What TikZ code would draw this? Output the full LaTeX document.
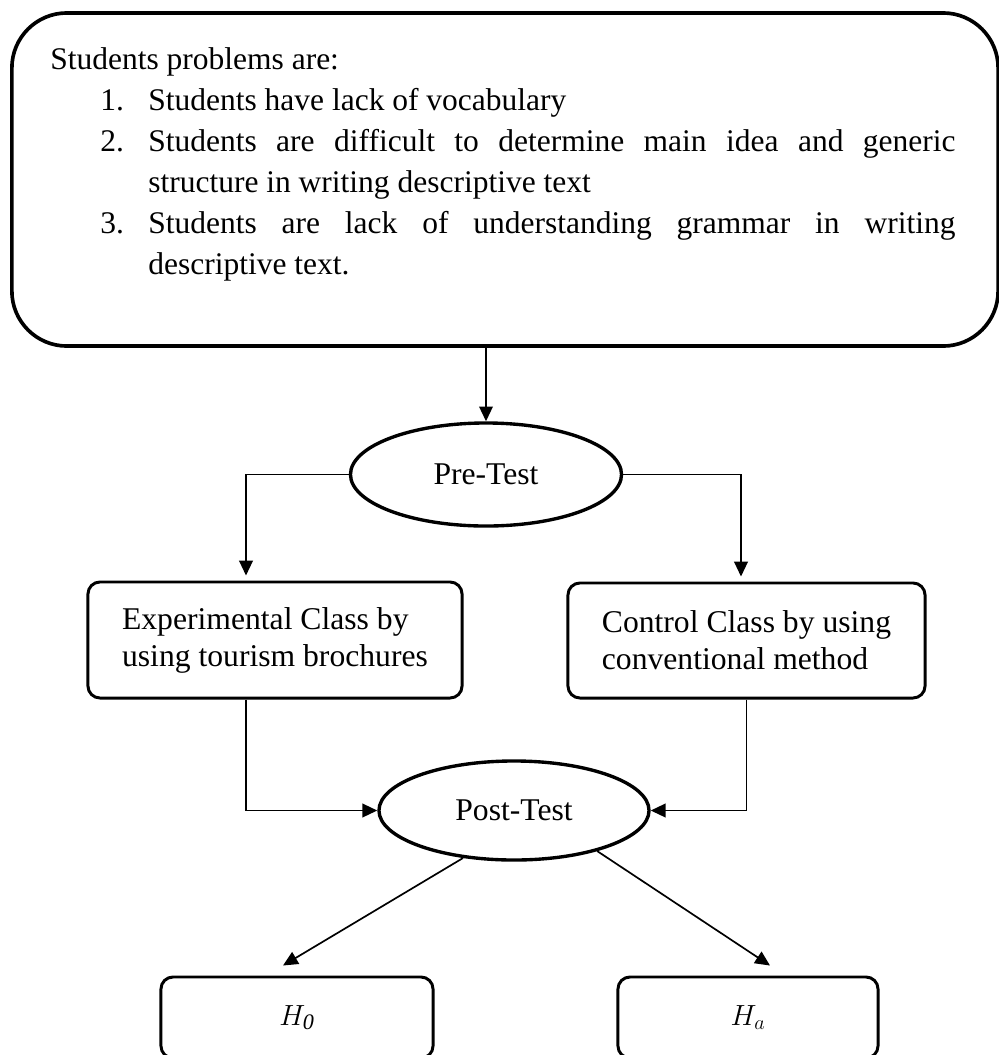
\documentclass[tikz,border=0pt]{standalone}
\usepackage{fontspec}
\setmainfont{Liberation Serif}
\usetikzlibrary{shapes.geometric,arrows.meta,calc}

\newcommand{\probfont}{\fontsize{22.4pt}{29.2pt}\selectfont}
\newcommand{\boxfont}{\fontsize{22.5pt}{26.3pt}\selectfont}
\newcommand{\probitem}[1]{\par\leftskip=2.45cm\noindent\llap{\makebox[1.2cm][l]{#1}}}

\begin{document}
\begin{tikzpicture}[x=0.025cm, y=-0.025cm,
    bigbox/.style={draw, line width=2.6pt, rounded corners=1.375cm, minimum width=24.65cm, minimum height=8.325cm},
    probtext/.style={inner sep=0, text width=22.625cm, align=justify, font=\probfont},
    classbox/.style={draw, line width=2.1pt, rounded corners=0.3cm, align=left, font=\boxfont, inner sep=0},
    hypbox/.style={draw, line width=2.1pt, rounded corners=0.3cm, font=\boxfont, minimum height=2.025cm},
    testnode/.style={draw, ellipse, line width=2.4pt, font=\boxfont, inner sep=0},
    conn/.style={line width=1.2pt, -{Triangle[length=0.37cm,width=0.34cm]}}]
  \useasboundingbox (0,0) rectangle (999,1055);
  \clip (0,0) rectangle (999,1055);

  % the problem box
  \node[bigbox] (prob) at (505,179.5) {};
  \node[probtext, anchor=north west] (probtxt) at (50,47) {\hyphenpenalty=10000\noindent Students problems are:
    \probitem{1.}Students have lack of vocabulary
    \probitem{2.}Students are difficult to determine main idea and generic\linebreak structure in writing descriptive text
    \probitem{3.}Students are lack of understanding grammar in writing\linebreak descriptive text.\par};

  % tests and classes
  \node[testnode, minimum width=6.775cm, minimum height=2.575cm] (pre) at (486,474.5) {Pre-Test};
  \node[classbox, minimum width=9.35cm, minimum height=2.9cm] (exp) at (275,640) {Experimental Class by\\using tourism brochures};
  \node[classbox, minimum width=8.925cm, minimum height=2.875cm] (ctrl) at (746.5,640.5) {Control Class by using\\conventional method};
  \node[testnode, minimum width=6.75cm, minimum height=2.475cm] (post) at (514,810.5) {Post-Test};

  % hypotheses
  \node[hypbox, minimum width=6.8cm] (h0) at (297,1017.5) {$H_{\mathit{0}}$};
  \node[hypbox, minimum width=6.5cm] (ha) at (748,1017.5) {$H_a$};

  % Draw the connectors
  \draw[conn] (prob.south -| pre.north) -- (pre.north);
  \draw[conn] (pre.west) -| ($(exp.north)+(-29,-5)$);
  \draw[conn] (pre.east) -| ($(ctrl.north)+(-5.5,-5)$);
  \draw[conn] ($(exp.south)+(-29,0)$) |- (post.west);
  \draw[conn] (ctrl.south) |- (post.east);
  \draw[conn] (post.223) -- ($(h0.north)+(-14,-10)$);
  \draw[conn] (post.334) -- ($(ha.north)+(22,-10)$);
\end{tikzpicture}
\end{document}
